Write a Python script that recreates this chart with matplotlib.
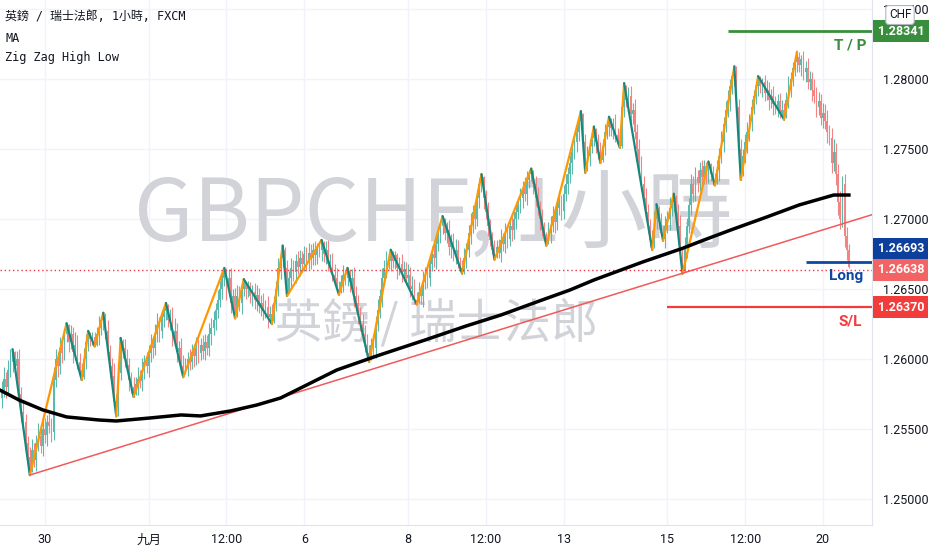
import numpy as np
import matplotlib
matplotlib.use("Agg")
import matplotlib.pyplot as plt
from matplotlib.transforms import blended_transform_factory

plt.rcParams['font.family'] = ['Roboto', 'Noto Sans CJK TC', 'DejaVu Sans']

# prices are stored in pips above 1.25000
base = 1.25
first_open = 72
closes = [
    78, 86, 80, 92, 98, 105, 95, 100, 75, 62, 55, 40, 30, 20, 35, 28, 40, 45, 38, 50,
    46, 55, 52, 48, 85, 100, 95, 108, 104, 118, 124, 112, 118, 105, 110, 98, 92, 87, 100, 112,
    118, 114, 116, 110, 118, 122, 128, 132, 120, 105, 95, 88, 70, 60, 90, 113, 108, 100, 96, 85,
    80, 75, 82, 86, 84, 92, 98, 95, 104, 110, 108, 118, 124, 120, 130, 134, 138, 128, 130, 115,
    120, 105, 108, 95, 90, 95, 100, 98, 105, 102, 108, 104, 110, 106, 112, 108, 118, 122, 128, 135,
    142, 150, 158, 164, 150, 158, 140, 145, 131, 145, 140, 150, 155, 150, 152, 145, 148, 142, 146, 138,
    140, 134, 137, 130, 132, 127, 140, 150, 165, 172, 178, 165, 148, 158, 165, 162, 170, 166, 172, 168,
    175, 170, 176, 172, 178, 174, 180, 178, 183, 175, 178, 168, 170, 160, 158, 150, 148, 155, 160, 158,
    163, 155, 158, 145, 140, 132, 125, 118, 110, 104, 100, 110, 108, 125, 135, 145, 158, 165, 172, 170,
    176, 170, 174, 165, 168, 162, 164, 158, 160, 150, 152, 142, 141, 148, 145, 155, 160, 158, 168, 175,
    172, 182, 190, 195, 200, 190, 192, 180, 184, 175, 178, 168, 165, 162, 172, 178, 190, 196, 205, 200,
    215, 225, 230, 215, 205, 195, 185, 178, 173, 180, 176, 185, 182, 190, 186, 195, 192, 200, 205, 210,
    215, 222, 218, 228, 232, 234, 225, 215, 208, 200, 192, 186, 183, 190, 196, 202, 198, 208, 212, 206,
    218, 225, 232, 240, 248, 255, 262, 270, 275, 255, 235, 245, 252, 258, 264, 255, 248, 242, 252, 262,
    266, 271, 265, 268, 260, 255, 252, 280, 295, 285, 288, 275, 278, 262, 250, 240, 225, 215, 205, 195,
    185, 180, 200, 208, 198, 190, 186, 195, 200, 208, 212, 216, 205, 195, 175, 163, 180, 195, 210, 225,
    218, 230, 226, 235, 230, 238, 232, 239, 232, 228, 226, 235, 245, 255, 268, 278, 285, 295, 302, 307,
    280, 250, 232, 245, 255, 262, 270, 280, 288, 295, 300, 295, 298, 290, 292, 285, 288, 282, 280, 284,
    276, 278, 273, 285, 295, 300, 308, 312, 316, 310, 314, 305, 308, 298, 300, 292, 288, 280, 284, 272,
    276, 270, 262, 258, 240, 248, 232, 212, 200, 225, 188, 178, 166,
]
# wick lengths above / below the body, pips
up_wick = [
    6, 8, 5, 7, 9, 2, 1, 6, 7, 5, 9, 6, 5, 7, 8, 5, 6, 9, 5, 7,
    8, 5, 7, 6, 9, 7, 5, 8, 6, 4, 2, 1, 6, 5, 9, 7, 6, 5, 8, 6,
    2, 1, 3, 3, 5, 9, 3, 1, 1, 8, 5, 6, 9, 5, 7, 2, 1, 6, 7, 5,
    6, 7, 5, 8, 6, 9, 5, 7, 6, 8, 5, 7, 9, 6, 5, 3, 2, 1, 6, 7,
    9, 6, 5, 7, 8, 6, 5, 7, 6, 5, 8, 6, 5, 7, 6, 5, 8, 7, 6, 5,
    7, 6, 4, 1, 1, 6, 7, 5, 6, 8, 7, 3, 2, 1, 4, 3, 5, 6, 7, 5,
    6, 7, 5, 8, 6, 7, 5, 6, 7, 4, 3, 2, 6, 5, 7, 6, 5, 7, 6, 5,
    6, 5, 7, 6, 5, 6, 3, 4, 2, 1, 6, 7, 5, 6, 8, 7, 6, 5, 7, 4,
    2, 1, 6, 8, 7, 6, 5, 7, 6, 8, 6, 5, 7, 6, 8, 5, 7, 6, 5, 4,
    2, 1, 3, 2, 5, 7, 6, 5, 8, 6, 7, 5, 6, 7, 5, 8, 6, 7, 5, 6,
    7, 6, 5, 4, 2, 1, 6, 7, 5, 6, 8, 7, 5, 6, 7, 5, 6, 8, 5, 7,
    6, 4, 2, 1, 6, 7, 5, 6, 7, 5, 6, 8, 5, 7, 6, 5, 7, 6, 5, 6,
    7, 5, 8, 6, 3, 2, 1, 6, 8, 5, 7, 6, 5, 8, 6, 7, 5, 6, 8, 5,
    6, 7, 5, 6, 7, 5, 6, 3, 2, 1, 6, 7, 5, 4, 2, 1, 6, 7, 5, 6,
    4, 2, 1, 4, 7, 5, 9, 3, 2, 1, 6, 7, 5, 8, 6, 7, 5, 6, 7, 6,
    5, 7, 6, 2.5, 1, 6, 5, 7, 6, 8, 4, 2, 1, 6, 8, 5, 7, 6, 5, 7,
    6, 7, 5, 6, 7, 4, 3, 2, 1, 6, 5, 7, 6, 8, 5, 6, 7, 5, 3, 2,
    2, 6, 7, 5, 6, 7, 5, 6, 4, 3, 2, 2, 3, 5, 7, 6, 5, 7, 6, 5,
    6, 7, 5, 6, 7, 5, 4, 3, 3.5, 3, 3, 6, 5, 7, 6, 5, 8, 6, 7, 5,
    7, 6, 8, 5, 7, 9, 6, 7, 8, 6, 7, 6, 4,
]
down_wick = [
    7, 5, 8, 6, 5, 7, 6, 9, 5, 7, 6, 8, 5, 3, 1, 5, 8, 6, 5, 7,
    6, 8, 5, 7, 6, 5, 8, 6, 7, 5, 6, 7, 5, 8, 6, 5, 4, 2, 1, 7,
    6, 5, 4, 1, 1, 8, 5, 7, 6, 5, 8, 6, 4, 1, 1, 5, 7, 6, 5, 8,
    4, 2, 1, 8, 5, 7, 6, 5, 8, 6, 7, 5, 6, 8, 5, 7, 6, 5, 7, 6,
    5, 7, 6, 4, 3, 1, 7, 6, 5, 8, 6, 7, 5, 6, 7, 5, 6, 8, 5, 7,
    6, 5, 7, 6, 8, 5, 7, 3, 2, 1, 6, 8, 5, 7, 6, 5, 7, 6, 8, 5,
    7, 6, 5, 8, 4, 2, 1, 6, 5, 8, 6, 4, 3, 1, 7, 6, 8, 5, 7, 6,
    5, 7, 6, 8, 5, 7, 6, 5, 8, 6, 7, 5, 6, 4, 3, 2, 2, 1, 7, 5,
    6, 7, 5, 8, 6, 7, 5, 6, 5, 3, 2, 1, 6, 7, 5, 6, 8, 5, 7, 6,
    7, 5, 6, 8, 5, 7, 6, 5, 7, 6, 8, 3, 2, 1, 6, 8, 5, 7, 6, 5,
    6, 8, 5, 7, 6, 5, 7, 6, 8, 5, 7, 3, 2, 1, 1, 7, 5, 8, 6, 7,
    5, 7, 6, 8, 5, 7, 4, 3, 2, 1, 4, 7, 5, 6, 7, 5, 8, 6, 7, 5,
    6, 7, 5, 8, 6, 5, 7, 6, 5, 8, 4, 2, 2, 1, 7, 5, 8, 6, 5, 7,
    6, 5, 7, 6, 8, 5, 7, 6, 5, 7, 2, 1, 7, 5, 6, 8, 5, 2, 1, 6,
    5, 7, 6, 8, 5, 3, 1, 1, 7, 5, 8, 6, 7, 5, 6, 8, 5, 7, 6, 5,
    5, 2, 1, 7, 5, 1.5, 1, 7, 5, 8, 6, 7, 5, 6, 4, 2, 1, 8, 5, 7,
    6, 5, 7, 6, 8, 5, 7, 6, 5, 4, 2, 1, 8, 5, 7, 6, 5, 8, 6, 7,
    6, 5, 4, 1, 5, 8, 6, 7, 5, 6, 7, 5, 8, 6, 5, 7, 6, 8, 5, 7,
    4, 2, 2, 1, 6, 8, 5, 6, 7, 5, 8, 6, 7, 5, 6, 8, 5, 7, 6, 5,
    7, 6, 8, 5, 7, 6, 8, 9, 7, 6, 8, 7, 1,
]

# zig zag pivots (bar index, pips)
zz_idx = [5, 13, 30, 37, 40, 43, 47, 53, 55, 61, 76, 84, 103, 108, 112, 125, 130, 132, 148, 156,
          160, 170, 180, 192, 204, 213, 222, 228, 245, 252, 268, 270, 274, 277, 281, 286, 288, 301,
          303, 306, 311, 315, 327, 330, 339, 342, 350, 362, 368]
zz_val = [107, 17, 125.5, 85, 120, 109, 133, 59, 115, 73, 140, 87, 165, 129, 157, 125, 181, 145, 185, 146,
          165, 98, 178, 139, 202, 161, 232, 171, 236, 181, 277, 233, 266, 240, 273, 251, 297, 178,
          210.5, 184.5, 218, 161, 241, 224, 309, 228, 302, 271, 319.5]

# moving average
ma_idx = [-1, 8, 19, 30, 45, 53, 69, 83, 92, 106, 118, 129, 142, 155, 175, 196, 215, 231, 250, 263,
          274, 297, 315, 325, 338, 354, 369, 385, 392]
ma_val = [77.9, 70.7, 63.6, 58.6, 56.4, 55.7, 57.9, 60.0, 59.3, 62.9, 67.1, 72.1, 82.1, 92.1, 102.9,
          113.6, 123.6, 131.4, 142.1, 149.3, 156.4, 169.5, 179.0, 185.0, 192.5, 201.4, 210.0, 217.1, 217.1]

trend_idx = [13, 315]
trend_val = [17.1, 161.2]

tick_idx = [20, 68, 104, 140, 188, 224, 260, 308, 344, 380]
tick_labels = ['30', '九月', '12:00', '6', '8', '12:00', '13', '15', '12:00', '20']
price_ticks = [1.25, 1.255, 1.26, 1.265, 1.27, 1.275, 1.28, 1.285]

tp_price, long_price, sl_price, last_price = 1.28341, 1.26693, 1.26370, 1.26638
tp_start, long_start, sl_start = 336, 372, 308

x_min, x_max = -0.8, 402.7
y_min, y_max = 1.24814, 1.28564

fig = plt.figure(figsize=(9.32, 5.5), dpi=100)
ax = fig.add_axes([0, 25 / 550, 872 / 932, 525 / 550])
ax.set_xlim(x_min, x_max)
ax.set_ylim(y_min, y_max)

grid_col = '#f0f3fa'
for t in tick_idx:
    ax.axvline(t, color=grid_col, lw=1, zorder=0)
for p in price_ticks:
    ax.axhline(p, color=grid_col, lw=1, zorder=0)

# watermark
wm_font = ['Noto Sans CJK TC', 'DejaVu Sans']
ax.text(0.497, 0.588, 'GBPCHF, 1小時', transform=ax.transAxes, ha='center', va='center',
        fontsize=62, color='#d1d3d8', family=wm_font, zorder=0.5)
ax.text(0.501, 0.383, '英鎊 / 瑞士法郎', transform=ax.transAxes, ha='center', va='center',
        fontsize=34, color='#d1d3d8', family=wm_font, zorder=0.5)

# candles
c = base + np.array(closes) / 1e4
o = np.r_[base + first_open / 1e4, c[:-1]]
hi = np.maximum(o, c) + np.array(up_wick) / 1e4
lo = np.minimum(o, c) - np.array(down_wick) / 1e4
x = np.arange(len(c))
up = c >= o
up_col, dn_col = '#5cbaad', '#f48484'
cols = np.where(up, up_col, dn_col)
ax.vlines(x, lo, hi, colors=cols, lw=0.8, zorder=2)
ax.bar(x[up], (c - o)[up], bottom=o[up], width=0.8, color=up_col, linewidth=0,
       antialiased=False, zorder=2)
ax.bar(x[~up], (c - o)[~up], bottom=o[~up], width=0.8, color=dn_col, linewidth=0,
       antialiased=False, zorder=2)

zv = base + np.array(zz_val) / 1e4
for i in range(len(zz_idx) - 1):
    col = '#ff9800' if zv[i + 1] > zv[i] else '#138a7e'
    ax.plot(zz_idx[i:i + 2], zv[i:i + 2], color=col, lw=1.6, zorder=3, solid_capstyle='round')

ax.plot(ma_idx, base + np.array(ma_val) / 1e4, color='black', lw=2.5, zorder=4)

slope = (trend_val[1] - trend_val[0]) / (trend_idx[1] - trend_idx[0])
end_val = trend_val[0] + slope * (x_max - trend_idx[0])
ax.plot([trend_idx[0], x_max], [base + trend_val[0] / 1e4, base + end_val / 1e4],
        color='#f05a5a', lw=1.1, zorder=3)

ax.axhline(last_price, color='#f23645', lw=1, ls=(0, (1, 2)), zorder=3)
ax.hlines(tp_price, tp_start, x_max, color='#388e3c', lw=2, zorder=5)
ax.hlines(long_price, long_start, x_max, color='#0d47a1', lw=2, zorder=5)
ax.hlines(sl_price, sl_start, x_max, color='#f23c3c', lw=1.6, zorder=5)

ax.annotate('T / P', (392.5, tp_price), xytext=(0, -10), textcoords='offset points',
            ha='center', va='center', fontsize=11, fontweight='bold', color='#388e3c')
ax.annotate('Long', (390.7, long_price), xytext=(0, -10), textcoords='offset points',
            ha='center', va='center', fontsize=11, fontweight='bold', color='#0d47a1')
ax.annotate('S/L', (392.5, sl_price), xytext=(0, -10.5), textcoords='offset points',
            ha='center', va='center', fontsize=11, fontweight='bold', color='#f23c3c')

for side in ['left', 'top']:
    ax.spines[side].set_visible(False)
for side in ['right', 'bottom']:
    ax.spines[side].set_color('#e0e3eb')

ax.set_xticks(tick_idx)
ax.set_xticklabels(tick_labels)
ax.yaxis.tick_right()
ax.set_yticks(price_ticks)
ax.set_yticklabels([f'{p:.5f}' for p in price_ticks])
ax.tick_params(axis='both', length=0, labelsize=9, colors='#131722')
ax.tick_params(axis='y', pad=8)
ax.tick_params(axis='x', pad=6)

trans = blended_transform_factory(ax.transAxes, ax.transData)
boxes = [(tp_price, '#388e3c', 0), (long_price, '#0d3f9c', 9.5),
         (last_price, '#f26464', 0), (sl_price, '#f23c3c', 0)]
for p, col, dy in boxes:
    ax.annotate(f'{p:.5f}', (1, p), xycoords=trans, xytext=(4, dy), textcoords='offset points',
                ha='left', va='center', fontsize=9, fontweight='bold', color='white',
                bbox=dict(boxstyle='square,pad=0.35', fc=col, ec='none'), annotation_clip=False, zorder=10)

fig.text(900 / 932, 1 - 15 / 550, 'CHF', ha='center', va='center', fontsize=8.5, color='#131722',
         bbox=dict(boxstyle='round,pad=0.25', fc='white', ec='#b2b5be', lw=0.8), zorder=20)

legend_font = ['DejaVu Sans Mono', 'Noto Sans CJK TC']
fig.text(5 / 932, 1 - 17 / 550, '英鎊 / 瑞士法郎, 1小時, FXCM', ha='left', va='center',
         fontsize=8.6, color='#131722', family=legend_font)
fig.text(5 / 932, 1 - 38 / 550, 'MA', ha='left', va='center', fontsize=8.6, color='#131722', family=legend_font)
fig.text(5 / 932, 1 - 57 / 550, 'Zig Zag High Low', ha='left', va='center', fontsize=8.6,
         color='#131722', family=legend_font)

fig.savefig('out.png', dpi=100, facecolor='white')
